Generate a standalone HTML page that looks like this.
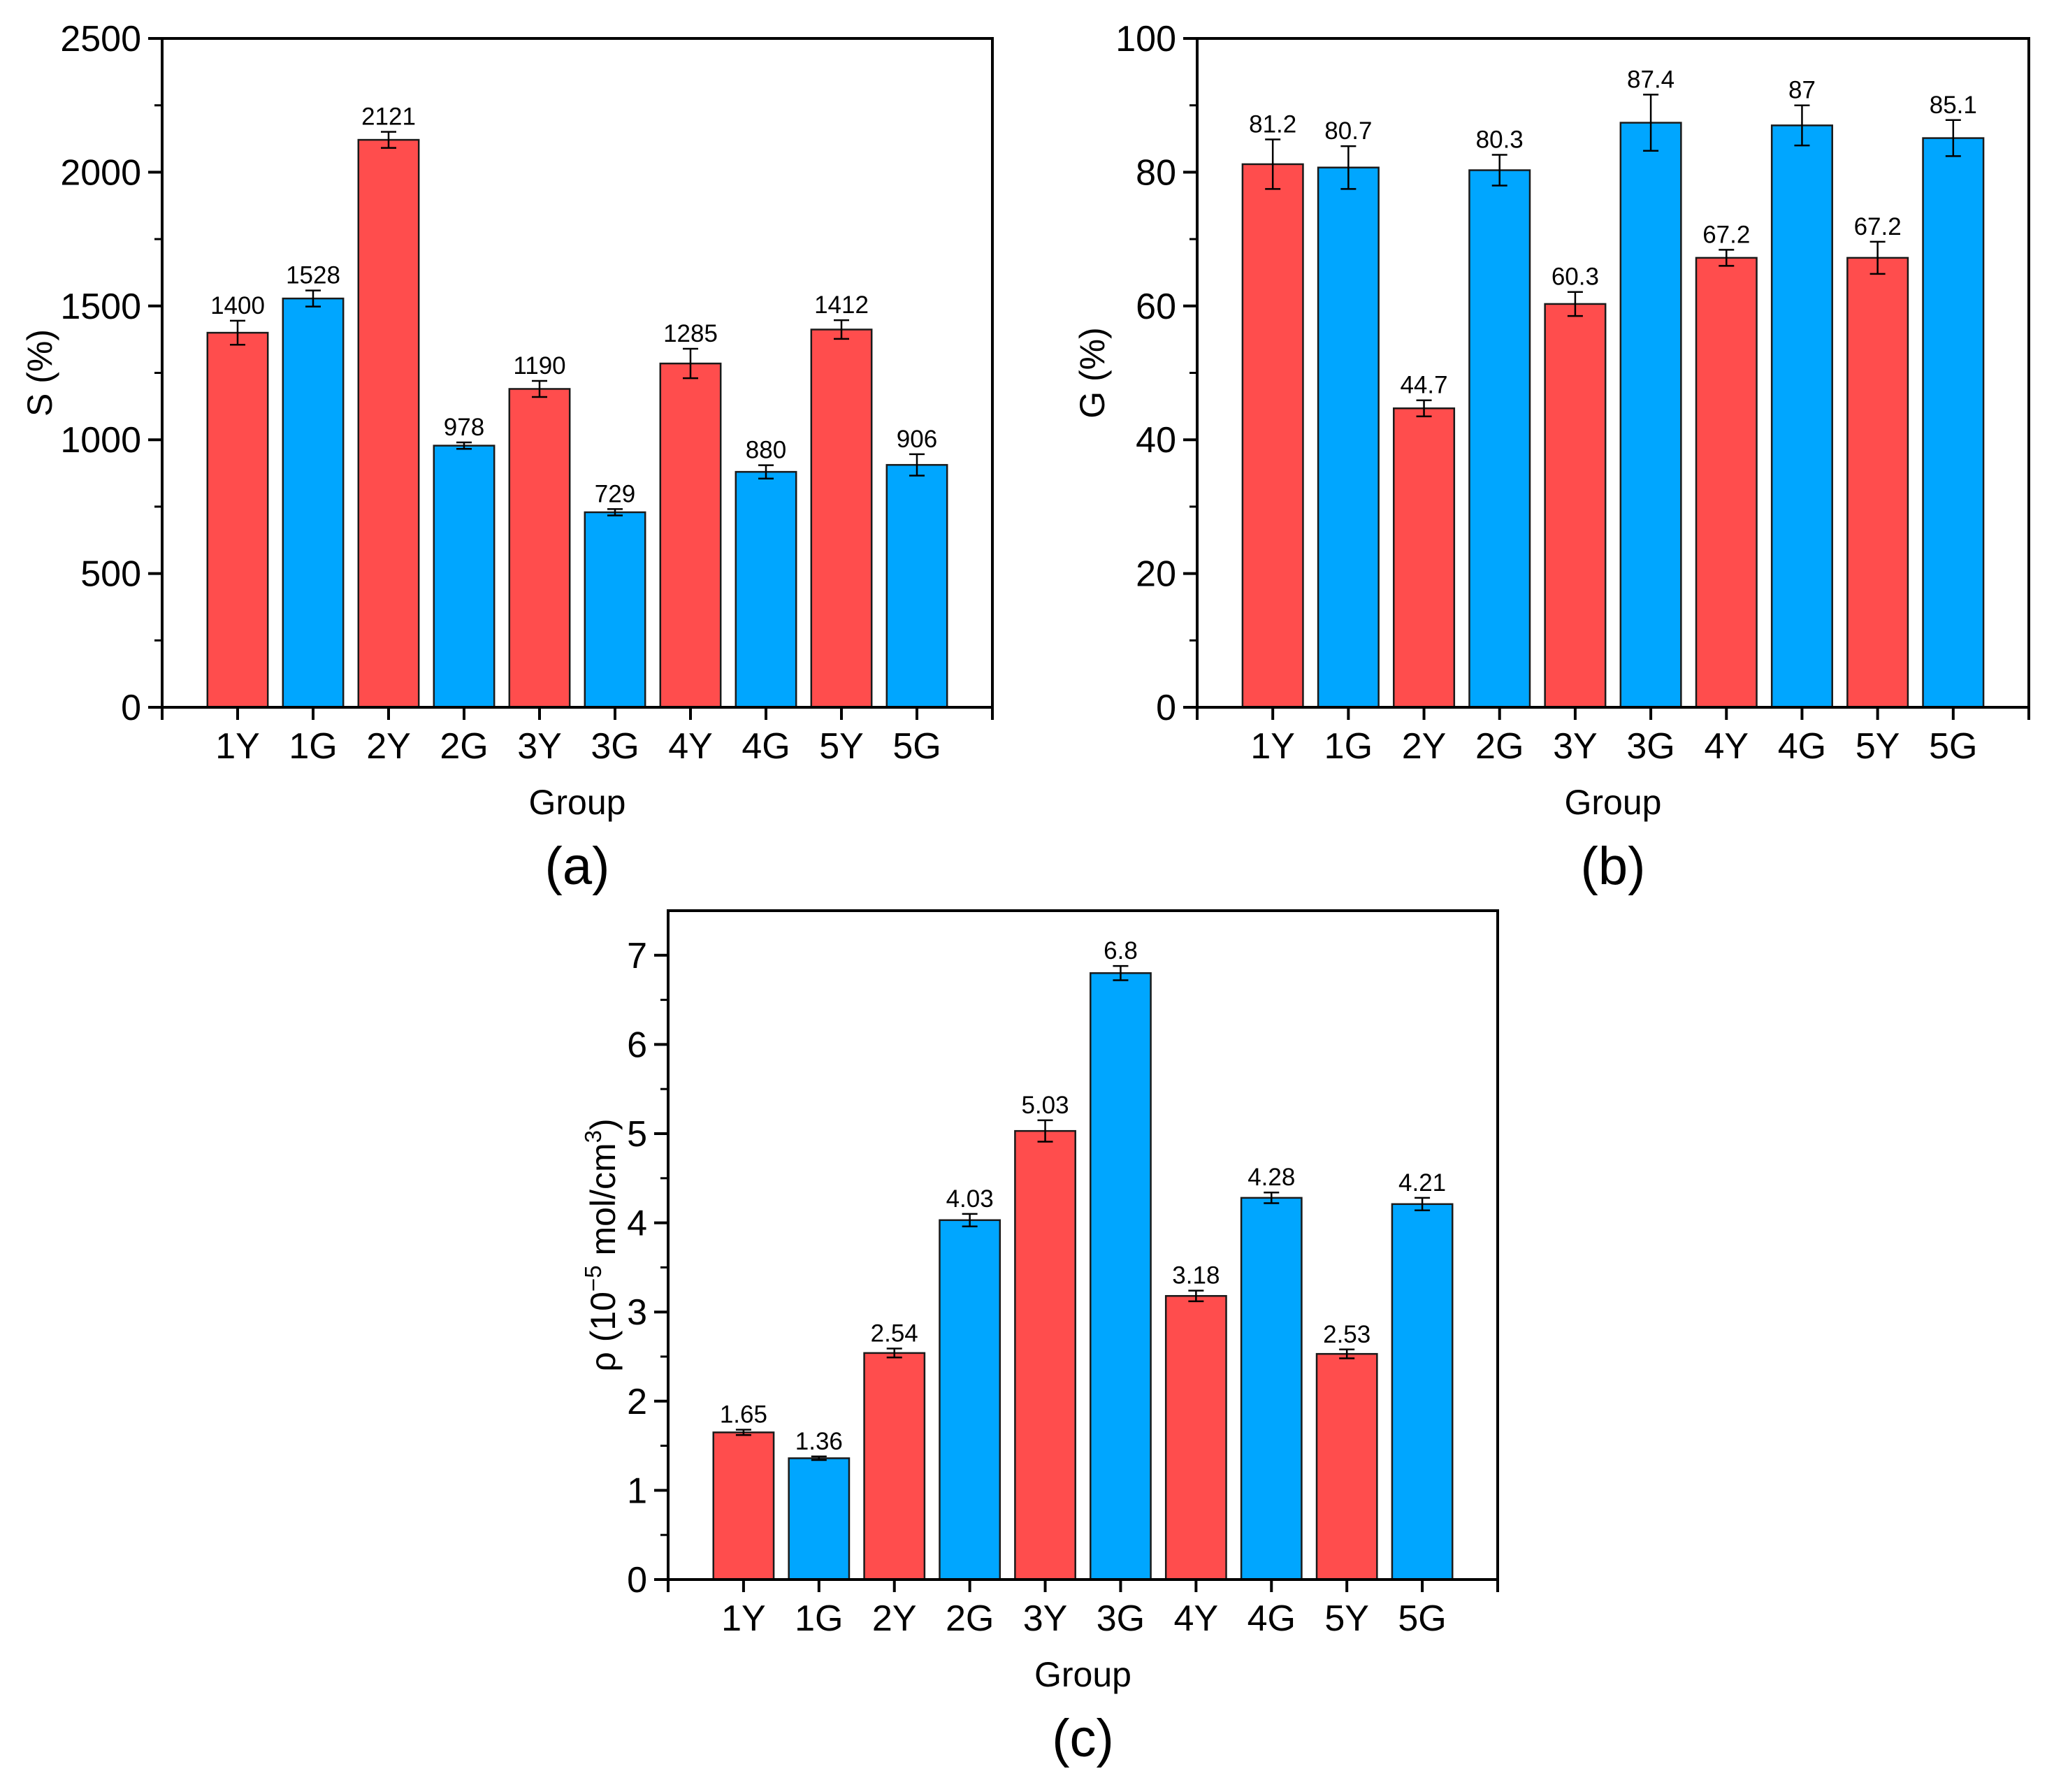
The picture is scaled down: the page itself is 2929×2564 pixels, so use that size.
<!DOCTYPE html>
<html><head><meta charset="utf-8"><style>
html,body{margin:0;padding:0;background:#fff;}
svg{display:block;font-family:"Liberation Sans",Arial,sans-serif;}
</style></head><body>
<svg id="fig" width="2929" height="2564" viewBox="0 0 2929 2564" xmlns="http://www.w3.org/2000/svg"></svg>
<script>
const categories = ["1Y","1G","2Y","2G","3Y","3G","4Y","4G","5Y","5G"];
const sValues = [1400,1528,2121,978,1190,729,1285,880,1412,906];
const sErrors = [45,30,30,12,30,12,55,25,35,40];
const sLabels = ["1400","1528","2121","978","1190","729","1285","880","1412","906"];
const sTicks = [0,500,1000,1500,2000,2500];
const gValues = [81.2,80.7,44.7,80.3,60.3,87.4,67.2,87,67.2,85.1];
const gErrors = [3.7,3.2,1.2,2.3,1.8,4.2,1.2,3,2.4,2.7];
const gLabels = ["81.2","80.7","44.7","80.3","60.3","87.4","67.2","87","67.2","85.1"];
const gTicks = [0,20,40,60,80,100];
const rValues = [1.65,1.36,2.54,4.03,5.03,6.8,3.18,4.28,2.53,4.21];
const rErrors = [0.03,0.02,0.05,0.07,0.12,0.08,0.06,0.06,0.05,0.07];
const rLabels = ["1.65","1.36","2.54","4.03","5.03","6.8","3.18","4.28","2.53","4.21"];
const rTicks = [0,1,2,3,4,5,6,7];

const NS="http://www.w3.org/2000/svg";
const svg=document.getElementById('fig');
function mk(tag,attrs,parent,text){const e=document.createElementNS(NS,tag);for(const k in attrs)e.setAttribute(k,attrs[k]);if(text!==undefined)e.textContent=text;(parent||svg).appendChild(e);return e;}

function panel(cfg){
  const g=mk('g',{});
  
  
  const {L,R,T,B,ymax,minor}=cfg;
  const n=categories.length;
  const sx=(R-L)/(n+1);
  const xs=i=>L+(i+1)*sx;
  const ys=v=>B-(v/ymax)*(B-T);
  cfg.values.forEach((v,i)=>{
    const bw=sx*0.8;
    const r=mk('rect',{x:xs(i)-bw/2,y:ys(v),width:bw,height:B-ys(v),fill:i%2===0?'#FF4D4D':'#00A6FF',stroke:'#1a1a1a','stroke-width':2.5},g);
    
    
    const e=cfg.errors[i];
    const eb=mk('path',{d:`M${xs(i)} ${ys(v+e)}V${ys(v-e)}M${xs(i)-11} ${ys(v+e)}H${xs(i)+11}M${xs(i)-11} ${ys(v-e)}H${xs(i)+11}`,stroke:'#000','stroke-width':2.5,fill:'none'},g);
    
    
    const t=mk('text',{x:xs(i),y:ys(v+e)-10,'font-size':35,'text-anchor':'middle',fill:'#000'},g,cfg.labels[i]);
    
    
  });
  const fr=mk('path',{d:`M${L} ${B}V${T}H${R}V${B}`,stroke:'#000','stroke-width':4,fill:'none'},g);
  
  
  const xa=mk('line',{x1:L-20,y1:B,x2:R,y2:B,stroke:'#000','stroke-width':4},g);
  
  
  cfg.ticks.forEach(t=>{
    mk('line',{x1:L-20,y1:ys(t),x2:L,y2:ys(t),stroke:'#000','stroke-width':4},g);
    const tl=mk('text',{x:L-30,y:ys(t)+18,'font-size':52,'text-anchor':'end'},g,String(t));
    
    
  });
  for(let v=minor;v<ymax;v+=minor){ if(Math.abs(v/ (minor*2) - Math.round(v/(minor*2)))>1e-6) mk('line',{x1:L-11,y1:ys(v),x2:L,y2:ys(v),stroke:'#000','stroke-width':3},g); }
  mk('line',{x1:L,y1:B,x2:L,y2:B+18,stroke:'#000','stroke-width':4},g);
  mk('line',{x1:R,y1:B,x2:R,y2:B+18,stroke:'#000','stroke-width':4},g);
  categories.forEach((c,i)=>{
    mk('line',{x1:xs(i),y1:B,x2:xs(i),y2:B+18,stroke:'#000','stroke-width':4},g);
    const tl=mk('text',{x:xs(i),y:B+73,'font-size':52,'text-anchor':'middle'},g,c);
    
    
  });
  const cx=(L+R)/2;
  const xt=mk('text',{x:cx,y:B+153,'font-size':50,'text-anchor':'middle'},g,'Group');
  
  
  const pl=mk('text',{x:cx,y:B+253,'font-size':76,'text-anchor':'middle'},g,cfg.letter);
  
  
  const yt=mk('text',{x:0,y:0,'font-size':50,'text-anchor':'middle',transform:`translate(${cfg.ytx},${(T+B)/2}) rotate(-90)`},g);
  
  
  if(cfg.sup){
    mk('tspan',{},yt,'ρ (10');
    mk('tspan',{dy:-20,'font-size':33},yt,'−5');
    mk('tspan',{dy:20},yt,' mol/cm');
    mk('tspan',{dy:-20,'font-size':33},yt,'3');
    mk('tspan',{dy:20},yt,')');
  } else yt.textContent=cfg.ytitle;
}
panel({name:'chart-s',L:232,R:1420,T:55,B:1012,ymax:2500,minor:250,values:sValues,errors:sErrors,labels:sLabels,ticks:sTicks,letter:'(a)',ytitle:'S (%)',ytx:74});
panel({name:'chart-g',L:1713,R:2903,T:55,B:1012,ymax:100,minor:10,values:gValues,errors:gErrors,labels:gLabels,ticks:gTicks,letter:'(b)',ytitle:'G (%)',ytx:1580});
panel({name:'chart-rho',L:956,R:2143,T:1303,B:2260,ymax:7.5,minor:0.5,values:rValues,errors:rErrors,labels:rLabels,ticks:rTicks,letter:'(c)',sup:true,ytx:880});
</script>
</body></html>
